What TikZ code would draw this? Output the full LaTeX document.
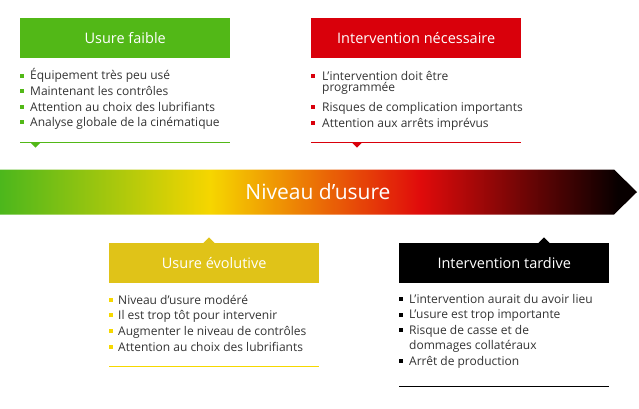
\documentclass[tikz,border=0pt]{standalone}
\usepackage{fontspec}
\setmainfont{Open Sans}
\definecolor{cgreen}{HTML}{52B817}
\definecolor{cred}{HTML}{D9000B}
\definecolor{cmustard}{HTML}{E0C318}
\definecolor{cyellow}{HTML}{F6D800}
\definecolor{cblack}{HTML}{000000}
\definecolor{textgray}{HTML}{333333}
\definecolor{sgreen}{HTML}{4CB71C}
\definecolor{syellow}{HTML}{F6D600}
\definecolor{sred}{HTML}{E00B0B}
\definecolor{sblack}{HTML}{080000}
\pgfdeclarehorizontalshading{wearshade}{100bp}{color(0bp)=(sgreen); color(25bp)=(sgreen); color(41.5bp)=(syellow); color(58bp)=(sred); color(73.5bp)=(sblack); color(100bp)=(sblack)}
\begin{document}
\begin{tikzpicture}[x=1pt,y=-1pt,
  titlebox/.style={minimum width=210pt, minimum height=40pt, inner sep=0pt, text=white, anchor=north west, font=\fontsize{14.5}{16}\selectfont},
  item/.style={anchor=base west, inner sep=0pt, text=textgray, font=\fontsize{12}{14}\selectfont},
  bul/.style={inner sep=0pt, minimum size=4pt, anchor=west},
  uline/.style={line width=1pt},
]
\useasboundingbox (0,0) rectangle (639,408);

% ---- arrow band
\shade[shading=wearshade] (0,169.5) -- (614,169.5) -- (637,192) -- (614,214.5) -- (0,214.5) -- cycle;
\node[text=white, font=\fontsize{21}{24}\selectfont, inner sep=0pt] (band) at (318,192) {Niveau d’usure};

% ---- Usure faible
\node[titlebox, fill=cgreen] (g) at (20,18) {Usure faible};
\node[bul, fill=cgreen] (gb1) at (20,75.5) {};
\node[item] (gt1) at (30,79.8) {Équipement très peu usé};
\node[bul, fill=cgreen] (gb2) at (20,91.1) {};
\node[item] (gt2) at (30,95.4) {Maintenant les contrôles};
\node[bul, fill=cgreen] (gb3) at (20,106.7) {};
\node[item] (gt3) at (30,111) {Attention au choix des lubrifiants};
\node[bul, fill=cgreen] (gb4) at (20,122.3) {};
\node[item] (gt4) at (30,126.6) {Analyse globale de la cinématique};
\coordinate (gl) at (20,142.3);
\coordinate (gr) at (230,142.3);
\draw[uline, cgreen] (gl) -- (gr);
\fill[cgreen] (30,142) -- (41,142) -- (35.5,147.5) -- cycle;

% ---- Intervention nécessaire
\node[titlebox, fill=cred] (r) at (311,18) {Intervention nécessaire};
\node[bul, fill=cred] (rb1) at (311,76) {};
\node[item] (rt1) at (322,80.3) {L’intervention doit être};
\node[item] (rt1b) at (322,91.3) {programmée};
\node[bul, fill=cred] (rb2) at (311,107.2) {};
\node[item] (rt2) at (322,111.5) {Risques de complication importants};
\node[bul, fill=cred] (rb3) at (311,122.7) {};
\node[item] (rt3) at (322,127) {Attention aux arrêts imprévus};
\coordinate (rl) at (311,142.3);
\coordinate (rr) at (521,142.3);
\draw[uline, cred] (rl) -- (rr);
\fill[cred] (351.5,142) -- (362.5,142) -- (357,147.5) -- cycle;

% ---- Usure évolutive
\node[titlebox, fill=cmustard] (y) at (109,243) {Usure évolutive};
\fill[cmustard] (203,243.5) -- (215,243.5) -- (209,237.3) -- cycle;
\node[bul, fill=cyellow] (yb1) at (109,299.7) {};
\node[item] (yt1) at (118,304) {Niveau d’usure modéré};
\node[bul, fill=cyellow] (yb2) at (109,315.3) {};
\node[item] (yt2) at (118,319.6) {Il est trop tôt pour intervenir};
\node[bul, fill=cyellow] (yb3) at (109,331) {};
\node[item] (yt3) at (118,335.3) {Augmenter le niveau de contrôles};
\node[bul, fill=cyellow] (yb4) at (109,346.7) {};
\node[item] (yt4) at (118,351) {Attention au choix des lubrifiants};
\coordinate (yl) at (109,366.3);
\coordinate (yr) at (319,366.3);
\draw[uline, cyellow] (yl) -- (yr);

% ---- Intervention tardive
\node[titlebox, fill=cblack] (k) at (399,243) {Intervention tardive};
\fill[cblack] (538,243.5) -- (550,243.5) -- (544,237.3) -- cycle;
\node[bul, fill=cblack] (kb1) at (399,299.3) {};
\node[item] (kt1) at (409,303.6) {L’intervention aurait du avoir lieu};
\node[bul, fill=cblack] (kb2) at (399,314.5) {};
\node[item] (kt2) at (409,318.8) {L’usure est trop importante};
\node[bul, fill=cblack] (kb3) at (399,329.8) {};
\node[item] (kt3) at (409,334.1) {Risque de casse et de};
\node[item] (kt3b) at (409,349.5) {dommages collatéraux};
\node[bul, fill=cblack] (kb4) at (399,361.3) {};
\node[item] (kt4) at (409,365.6) {Arrêt de production};
\coordinate (kl) at (399,386.3);
\coordinate (kr) at (609,386.3);
\draw[uline, cblack] (kl) -- (kr);
\end{tikzpicture}
\end{document}
